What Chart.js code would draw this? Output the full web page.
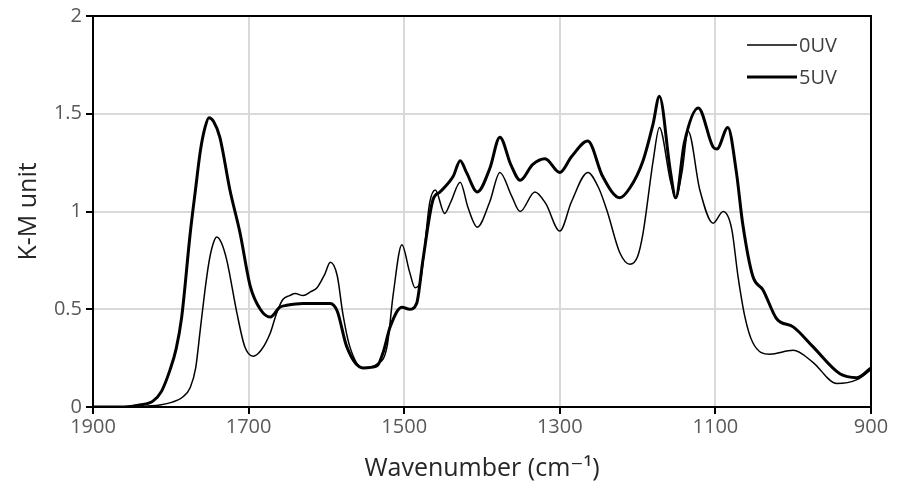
<!DOCTYPE html>
<html>
<head>
<meta charset="utf-8">
<script src="https://cdn.jsdelivr.net/npm/chart.js@4.4.0/dist/chart.umd.min.js"></script>
<style>
  html, body { margin: 0; padding: 0; background: #fff; }
  #wrap { width: 897px; height: 484px; }
</style>
</head>
<body>
<div id="wrap"><canvas id="kmChart" width="897" height="484"></canvas></div>
<script>
const seriesNames = ["0UV", "5UV"];
const xTicks = [1900, 1700, 1500, 1300, 1100, 900];
const yTicks = [0, 0.5, 1, 1.5, 2];

// 0UV (thin line)
const wn0 = [1900, 1850, 1830, 1814, 1798, 1785, 1775, 1768, 1762, 1756, 1751, 1746, 1741, 1735, 1728,
  1715, 1705, 1694, 1684, 1672, 1664, 1656, 1647, 1640, 1630, 1620, 1612, 1602, 1595, 1586, 1579, 1570,
  1553, 1535, 1522, 1514, 1503, 1493, 1486, 1480, 1467, 1460, 1448, 1440, 1428, 1418, 1406, 1390, 1377,
  1362, 1351, 1332, 1318, 1300, 1285, 1264, 1250, 1239, 1223, 1210, 1200, 1193, 1180, 1172, 1158, 1151,
  1143, 1135, 1120, 1103, 1090, 1079, 1071, 1062, 1052, 1030, 1000, 975, 944, 918, 900];
const km0 = [0, 0, 0.005, 0.01, 0.025, 0.05, 0.1, 0.2, 0.4, 0.6, 0.74, 0.83, 0.87, 0.84, 0.75,
  0.48, 0.31, 0.26, 0.29, 0.38, 0.48, 0.55, 0.57, 0.58, 0.57, 0.59, 0.61, 0.68, 0.74, 0.67, 0.48, 0.31,
  0.2, 0.22, 0.31, 0.58, 0.83, 0.69, 0.61, 0.63, 1.05, 1.11, 0.99, 1.05, 1.15, 1.02, 0.92, 1.05, 1.2,
  1.08, 1.0, 1.1, 1.04, 0.9, 1.05, 1.2, 1.12, 1.0, 0.79, 0.73, 0.77, 0.89, 1.26, 1.43, 1.16, 1.07,
  1.2, 1.41, 1.11, 0.94, 1.0, 0.91, 0.67, 0.46, 0.33, 0.27, 0.29, 0.23, 0.12, 0.14, 0.19];

// 5UV (thick line)
const wn5 = [1900, 1860, 1840, 1823, 1812, 1801, 1793, 1786, 1775, 1768, 1762, 1756, 1751, 1745, 1737,
  1724, 1711, 1698, 1685, 1672, 1660, 1651, 1630, 1612, 1595, 1586, 1574, 1553, 1535, 1527, 1518, 1503,
  1493, 1484, 1476, 1463, 1454, 1437, 1428, 1420, 1406, 1390, 1377, 1363, 1351, 1335, 1319, 1300, 1285,
  1264, 1245, 1223, 1210, 1193, 1180, 1172, 1158, 1151, 1140, 1122, 1103, 1098, 1084, 1073, 1065, 1052,
  1039, 1021, 1000, 975, 940, 918, 900];
const km5 = [0, 0, 0.01, 0.03, 0.08, 0.19, 0.3, 0.46, 0.89, 1.12, 1.31, 1.43, 1.48, 1.46, 1.38,
  1.11, 0.89, 0.62, 0.5, 0.46, 0.51, 0.52, 0.53, 0.53, 0.53, 0.49, 0.31, 0.2, 0.21, 0.28, 0.41, 0.51,
  0.5, 0.53, 0.75, 1.06, 1.1, 1.18, 1.26, 1.2, 1.1, 1.22, 1.38, 1.24, 1.16, 1.24, 1.27, 1.2, 1.28,
  1.36, 1.18, 1.07, 1.12, 1.26, 1.45, 1.59, 1.21, 1.07, 1.35, 1.53, 1.33, 1.32, 1.43, 1.2, 0.94, 0.67,
  0.6, 0.45, 0.41, 0.31, 0.17, 0.15, 0.2];

const toPoints = (xs, ys) => xs.map((x, i) => ({ x: x, y: ys[i] }));
const fontFamily = '"Open Sans", "DejaVu Sans", sans-serif';

// box round the plot + legend inside top right
const frameAndLegend = {
  id: 'frameAndLegend',
  afterDraw(chart) {
    const c = chart.ctx, a = chart.chartArea;
    c.save();
    c.strokeStyle = '#000';
    c.lineWidth = 2;
    c.strokeRect(a.left, a.top, a.right - a.left, a.bottom - a.top);

    const rows = [{ name: seriesNames[0], w: 1.5, y: 45 }, { name: seriesNames[1], w: 3, y: 77 }];
    c.font = '20px ' + fontFamily;
    c.fillStyle = '#404040';
    c.textBaseline = 'middle';
    rows.forEach(r => {
      c.lineWidth = r.w;
      c.beginPath();
      c.moveTo(747, r.y);
      c.lineTo(797, r.y);
      c.stroke();
      c.fillText(r.name, 799, r.y + 1);
    });
    c.restore();
  }
};

const tickFont = { family: fontFamily, size: 20 };
const plainNum = v => String(v);

new Chart(document.getElementById('kmChart').getContext('2d'), {
  type: 'line',
  data: {
    datasets: [{
      label: seriesNames[0],
      data: toPoints(wn0, km0),
      borderColor: '#000',
      borderWidth: 1.5,
      pointRadius: 0,
      cubicInterpolationMode: 'monotone',
      fill: false
    }, {
      label: seriesNames[1],
      data: toPoints(wn5, km5),
      borderColor: '#000',
      borderWidth: 3,
      pointRadius: 0,
      cubicInterpolationMode: 'monotone',
      fill: false
    }]
  },
  options: {
    responsive: false,
    animation: false,
    layout: { padding: { top: 16, right: 26, left: 14, bottom: 0 } },
    plugins: { legend: { display: false }, tooltip: { enabled: false } },
    scales: {
      x: {
        type: 'linear',
        reverse: true,
        min: 900,
        max: 1900,
        afterBuildTicks(scale) { scale.ticks = xTicks.map(v => ({ value: v })); },
        afterFit(scale) { scale.height = 77; },
        grid: { color: '#d9d9d9', lineWidth: 2, tickColor: '#000', tickLength: 7, tickWidth: 2 },
        border: { color: '#000', width: 2 },
        ticks: { color: '#595959', font: tickFont, padding: 1, maxRotation: 0, callback: plainNum },
        title: {
          display: true,
          text: 'Wavenumber (cm⁻¹)',
          color: '#262626',
          font: { family: fontFamily, size: 25 },
          padding: { top: 2, bottom: 0 }
        }
      },
      y: {
        min: 0,
        max: 2,
        afterBuildTicks(scale) { scale.ticks = yTicks.map(v => ({ value: v })); },
        afterFit(scale) { scale.width = 79; },
        grid: { color: '#d9d9d9', lineWidth: 2, tickColor: '#000', tickLength: 7, tickWidth: 2 },
        border: { color: '#000', width: 2 },
        ticks: { color: '#595959', font: tickFont, padding: 4, callback: plainNum },
        title: {
          display: true,
          text: 'K-M unit',
          color: '#262626',
          font: { family: fontFamily, size: 25 },
          padding: { top: 0, bottom: 10 }
        }
      }
    }
  },
  plugins: [frameAndLegend]
});
</script>
</body>
</html>
